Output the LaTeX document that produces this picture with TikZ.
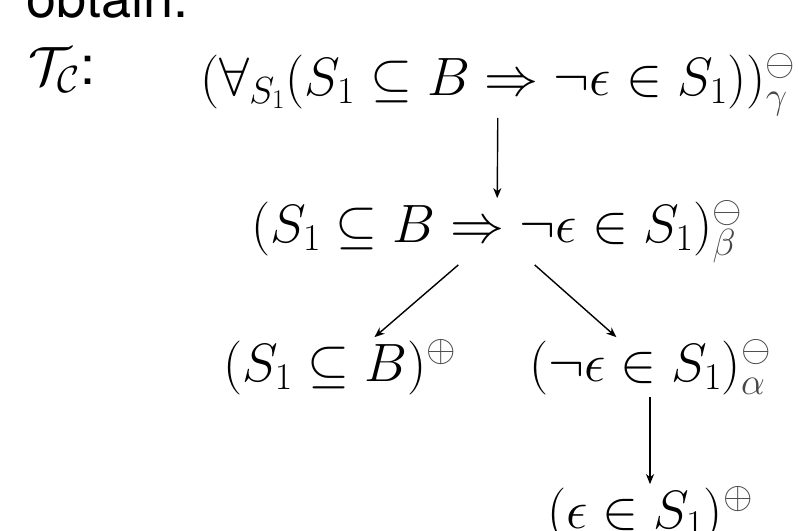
\RequirePackage{fix-cm}
\documentclass[tikz,border=0pt]{standalone}
\usepackage[no-math]{fontspec}
\newfontfamily\hvfont{TeX Gyre Heros}
\usetikzlibrary{arrows.meta}
\newcommand\gry[1]{\textcolor{black!72}{#1}}
\begin{document}
\begin{tikzpicture}[x=1pt,y=1pt,
  every node/.style={inner sep=2pt, font=\fontsize{54}{65}\selectfont},
  lbl/.style={anchor=base west, inner sep=0pt},
  fml/.style={anchor=base},
  edge/.style={-{Stealth[length=10pt,width=8pt,inset=3pt]}, line width=1.4pt}]
\clip (0,0) rectangle (799,-530);
\node[lbl, font=\fontsize{54}{65}\selectfont\hvfont] (obt) at (26,-17) {obtain:};
\node[lbl] (tc) at (28,-84) {$\mathcal{T}_{\mathcal{C}}$\hvfont :};
\node[fml] (n1) at (498,-95) {$(\forall_{S_1}(S_1\subseteq B\Rightarrow\neg\epsilon\in S_1))^{\gry{\ominus}}_{\gry{\gamma}}$};
\node[fml] (n2) at (497,-242) {$(S_1\subseteq B\Rightarrow\neg\epsilon\in S_1)^{\gry{\ominus}}_{\gry{\beta}}$};
\node[fml] (n3l) at (340,-381) {$(S_1\subseteq B)^{\gry{\oplus}}$};
\node[fml] (n3r) at (650,-381) {$(\neg\epsilon\in S_1)^{\gry{\ominus}}_{\gry{\alpha}}$};
\node[fml] (n4) at (650,-528) {$(\epsilon\in S_1)^{\gry{\oplus}}$};
\draw[edge] (n1) -- (n2);
\draw[edge] (n2) -- (n3l);
\draw[edge] (n2) -- (n3r);
\draw[edge] (n3r) -- (n4);
\end{tikzpicture}
\end{document}
